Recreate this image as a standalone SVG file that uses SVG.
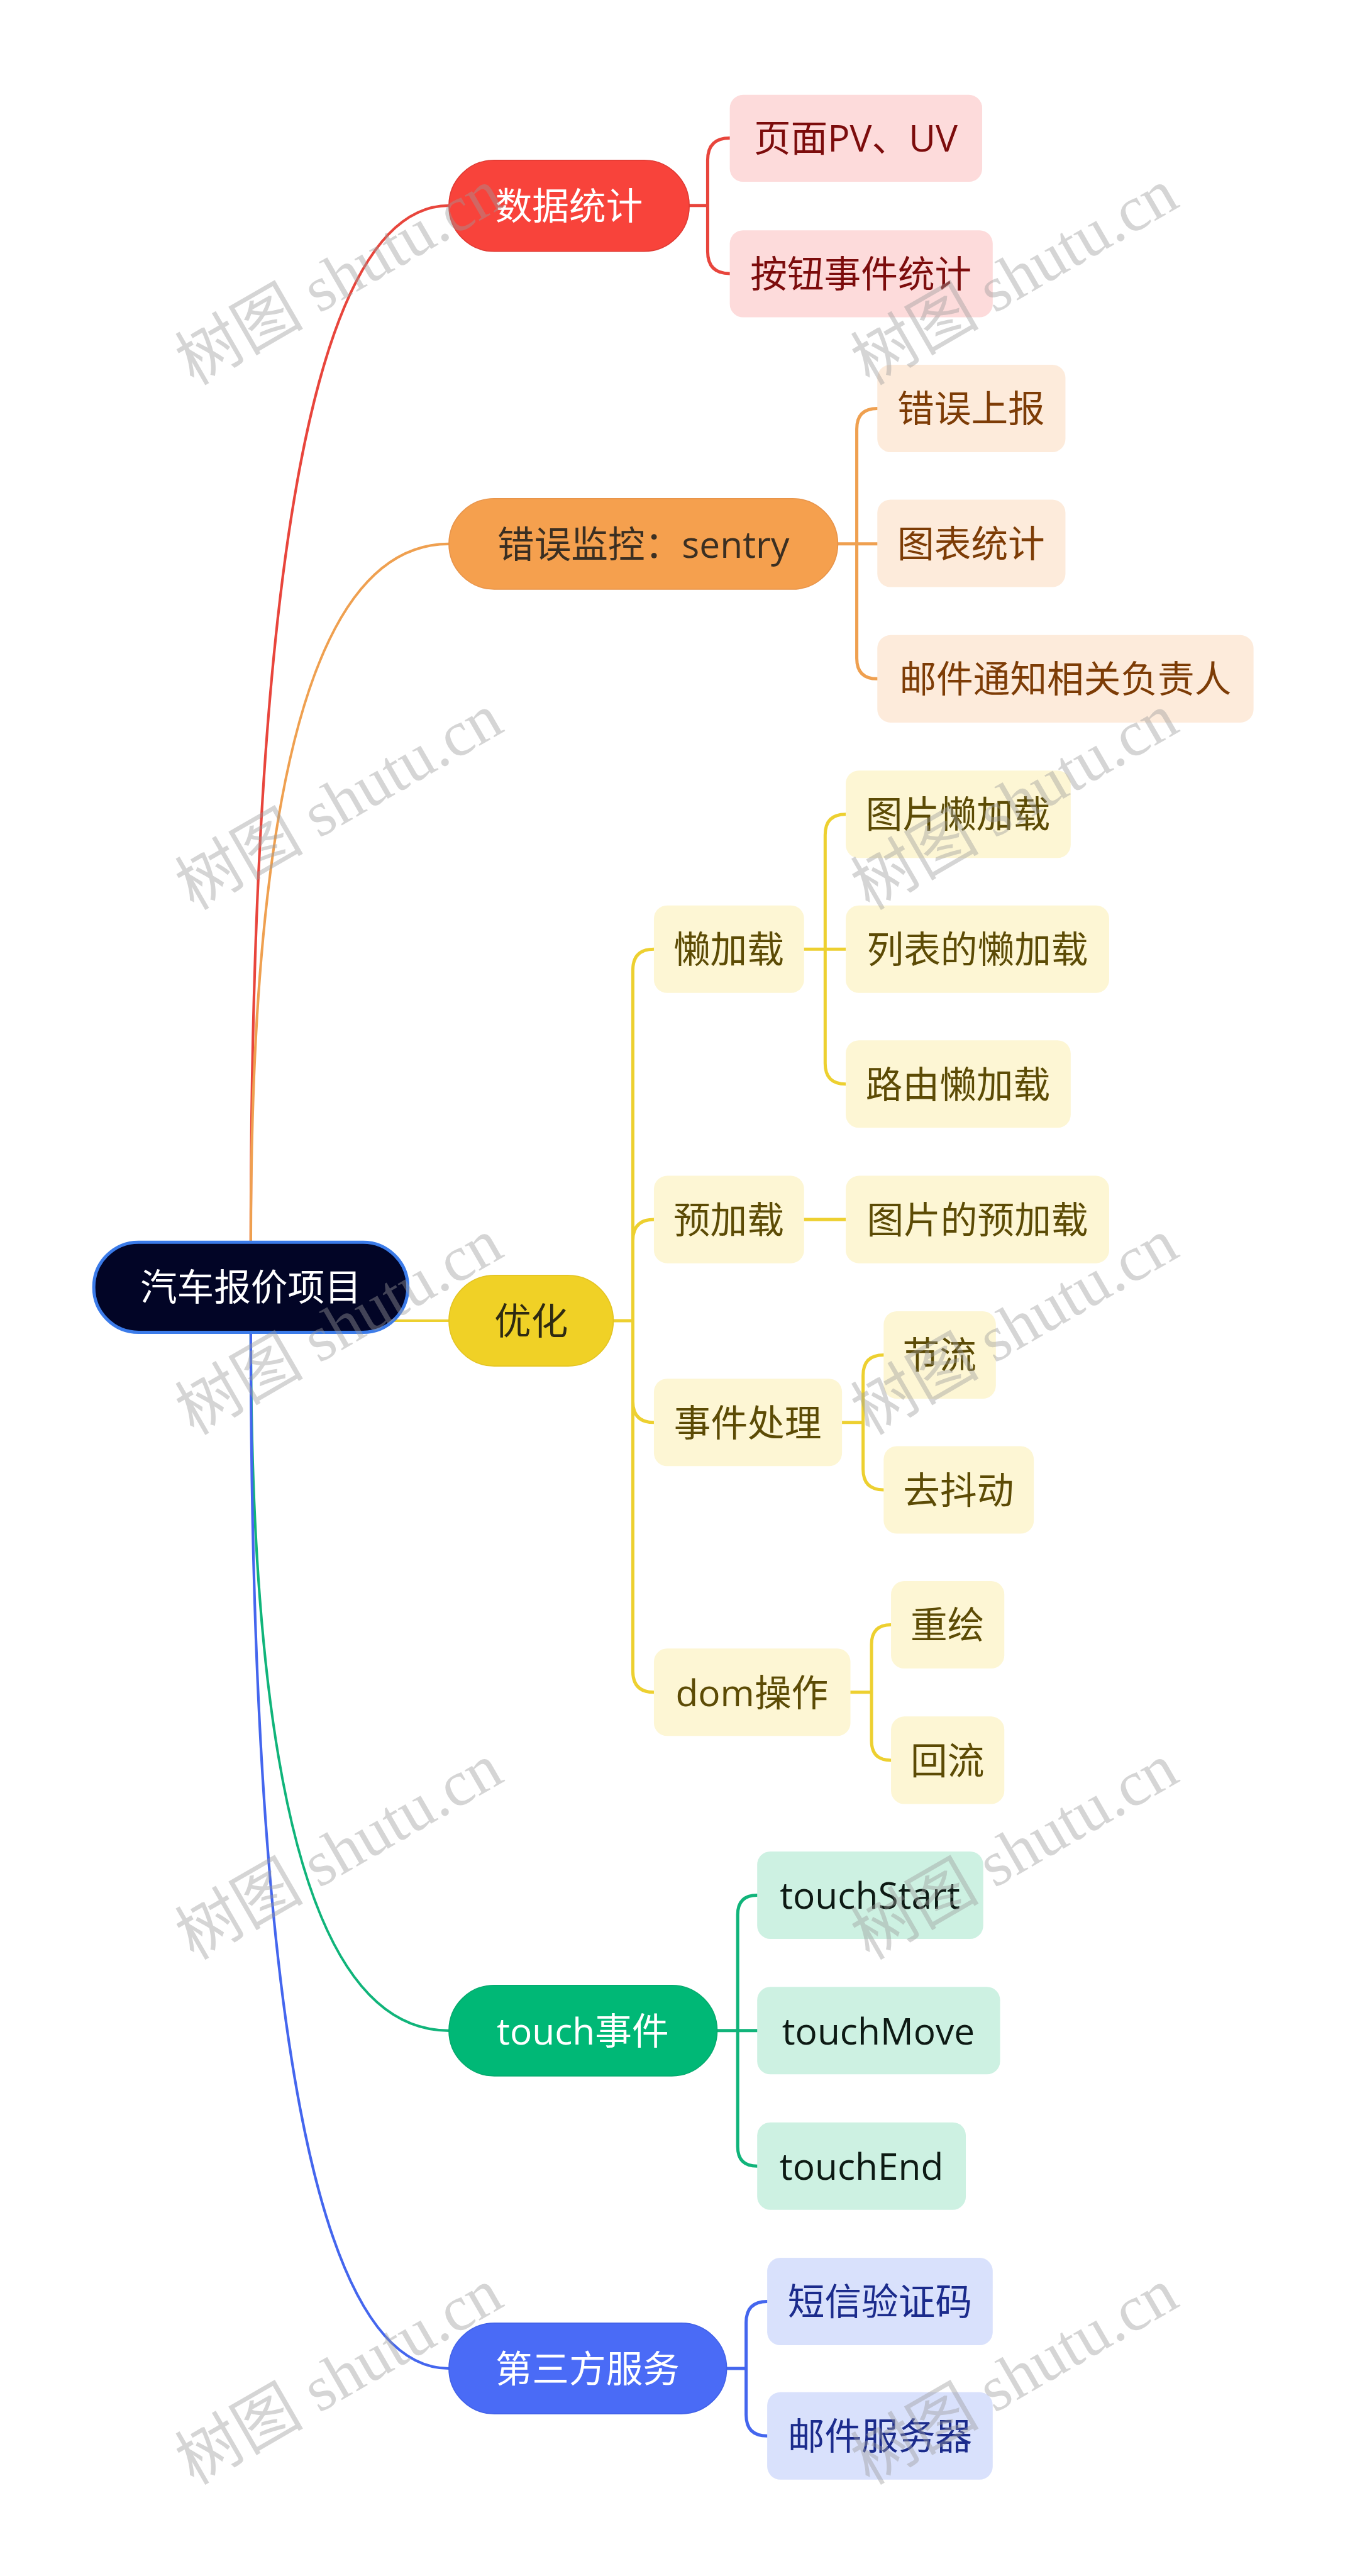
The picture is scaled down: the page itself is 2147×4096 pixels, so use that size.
<svg xmlns="http://www.w3.org/2000/svg" width="2147" height="4096" viewBox="0 0 2147 4096">
<style>
text{font-family:"Open Sans","Noto Sans CJK SC",sans-serif;font-size:70px;text-anchor:middle}
.c1{fill:none;stroke-width:5;stroke-linecap:round}
.c2{fill:none;stroke-width:6;stroke-linecap:round}
.red{stroke:#e8453c}.ora{stroke:#efa050}.yel{stroke:#edd030}.grn{stroke:#10b47a}.blu{stroke:#4466ee}
.wm{font-family:"Liberation Serif","Noto Sans CJK SC",serif;font-size:122px;fill:#9a9a9a;fill-opacity:0.42}
</style>
<rect width="2147" height="4096" fill="#ffffff"/>
<g transform="scale(0.838)">
<g id="connectors">
<path class="c1 red" d="M476,2357 Q476,390 852,390"/>
<path class="c1 ora" d="M476,2357 Q476,1032 852,1032"/>
<path class="c1 yel" d="M740,2506 H852"/>
<path class="c1 grn" d="M476,2528 Q476,3853 852,3853"/>
<path class="c1 blu" d="M476,2528 Q476,4494 852,4494"/>
<path class="c2 red" d="M1308,390 H1343 V304 Q1343,262 1385,262 M1343,390 V477 Q1343,519 1385,519"/>
<path class="c2 ora" d="M1590,1032 H1665 M1626,1032 V814 Q1626,775 1665,775 M1626,1032 V1249 Q1626,1288 1665,1288"/>
<path class="c2 yel" d="M1164,2506 H1201 M1201,2506 V1841 Q1201,1801 1241,1801 M1201,2506 V2354 Q1201,2314 1241,2314 M1201,2506 V2659 Q1201,2699 1241,2699 M1201,2506 V3171 Q1201,3211 1241,3211"/>
<path class="c2 yel" d="M1526,1801 H1605 M1566,1801 V1584 Q1566,1545 1605,1545 M1566,1801 V2018 Q1566,2057 1605,2057"/>
<path class="c2 yel" d="M1526,2314 H1605"/>
<path class="c2 yel" d="M1598,2699 H1638 M1638,2699 V2610 Q1638,2571 1677,2571 M1638,2699 V2788 Q1638,2827 1677,2827"/>
<path class="c2 yel" d="M1614,3211 H1654 M1654,3211 V3120 Q1654,3083 1691,3083 M1654,3211 V3303 Q1654,3340 1691,3340"/>
<path class="c2 grn" d="M1361,3853 H1437 M1400,3853 V3633 Q1400,3596 1437,3596 M1400,3853 V4073 Q1400,4110 1437,4110"/>
<path class="c2 blu" d="M1379,4494 H1416 M1416,4494 V4407 Q1416,4367 1456,4367 M1416,4494 V4582 Q1416,4622 1456,4622"/>
</g>
<g id="root"><rect x="178" y="2357" width="596" height="171" rx="85" fill="#020526" stroke="#3b7be9" stroke-width="6"/><text x="476" y="2468" fill="#ffffff">汽车报价项目</text></g>
<g id="n-data"><rect x="852" y="304" width="456" height="173" rx="86" fill="#f8433b" stroke="#e03a33" stroke-width="2"/><text x="1080" y="416" fill="#ffffff">数据统计</text></g>
<g id="n-pv"><rect x="1385" y="180" width="479" height="165" rx="25" fill="#fddbdb"/><text x="1624" y="288" fill="#7c0c0c">页面PV、UV</text></g>
<g id="n-btn"><rect x="1385" y="437" width="499" height="165" rx="25" fill="#fddbdb"/><text x="1634" y="545" fill="#7c0c0c">按钮事件统计</text></g>
<g id="n-err"><rect x="852" y="946" width="738" height="172" rx="86" fill="#f5a04e" stroke="#e8944a" stroke-width="2"/><text x="1221" y="1058" fill="#3b2f22">错误监控：sentry</text></g>
<g id="n-err1"><rect x="1665" y="692" width="357" height="166" rx="25" fill="#fdebdb"/><text x="1843" y="801" fill="#7d3c06">错误上报</text></g>
<g id="n-err2"><rect x="1665" y="948" width="357" height="166" rx="25" fill="#fdebdb"/><text x="1843" y="1057" fill="#7d3c06">图表统计</text></g>
<g id="n-err3"><rect x="1665" y="1205" width="714" height="166" rx="25" fill="#fdebdb"/><text x="2022" y="1314" fill="#7d3c06">邮件通知相关负责人</text></g>
<g id="n-opt"><rect x="852" y="2420" width="312" height="172" rx="86" fill="#f0d126" stroke="#e4c422" stroke-width="2"/><text x="1008" y="2532" fill="#2e2a12">优化</text></g>
<g id="n-lazy"><rect x="1241" y="1718" width="285" height="166" rx="25" fill="#fdf6d4"/><text x="1383" y="1827" fill="#5c4b05">懒加载</text></g>
<g id="n-lazy1"><rect x="1605" y="1462" width="427" height="166" rx="25" fill="#fdf6d4"/><text x="1818" y="1571" fill="#5c4b05">图片懒加载</text></g>
<g id="n-lazy2"><rect x="1605" y="1718" width="500" height="166" rx="25" fill="#fdf6d4"/><text x="1855" y="1827" fill="#5c4b05">列表的懒加载</text></g>
<g id="n-lazy3"><rect x="1605" y="1974" width="427" height="166" rx="25" fill="#fdf6d4"/><text x="1818" y="2083" fill="#5c4b05">路由懒加载</text></g>
<g id="n-pre"><rect x="1241" y="2231" width="285" height="166" rx="25" fill="#fdf6d4"/><text x="1383" y="2340" fill="#5c4b05">预加载</text></g>
<g id="n-pre1"><rect x="1605" y="2231" width="500" height="166" rx="25" fill="#fdf6d4"/><text x="1855" y="2340" fill="#5c4b05">图片的预加载</text></g>
<g id="n-evt"><rect x="1241" y="2616" width="357" height="166" rx="25" fill="#fdf6d4"/><text x="1419" y="2725" fill="#5c4b05">事件处理</text></g>
<g id="n-evt1"><rect x="1677" y="2488" width="213" height="166" rx="25" fill="#fdf6d4"/><text x="1783" y="2597" fill="#5c4b05">节流</text></g>
<g id="n-evt2"><rect x="1677" y="2744" width="285" height="166" rx="25" fill="#fdf6d4"/><text x="1819" y="2853" fill="#5c4b05">去抖动</text></g>
<g id="n-dom"><rect x="1241" y="3128" width="373" height="166" rx="25" fill="#fdf6d4"/><text x="1427" y="3237" fill="#5c4b05">dom操作</text></g>
<g id="n-dom1"><rect x="1691" y="3000" width="215" height="166" rx="25" fill="#fdf6d4"/><text x="1798" y="3109" fill="#5c4b05">重绘</text></g>
<g id="n-dom2"><rect x="1691" y="3257" width="215" height="166" rx="25" fill="#fdf6d4"/><text x="1798" y="3366" fill="#5c4b05">回流</text></g>
<g id="n-touch"><rect x="852" y="3767" width="509" height="172" rx="86" fill="#00b876" stroke="#05aa6e" stroke-width="2"/><text x="1106" y="3879" fill="#ffffff">touch事件</text></g>
<g id="n-t1"><rect x="1437" y="3513" width="429" height="166" rx="25" fill="#cdf1e2"/><text x="1651" y="3622" fill="#0d1a14">touchStart</text></g>
<g id="n-t2"><rect x="1437" y="3770" width="461" height="166" rx="25" fill="#cdf1e2"/><text x="1667" y="3879" fill="#0d1a14">touchMove</text></g>
<g id="n-t3"><rect x="1437" y="4027" width="396" height="166" rx="25" fill="#cdf1e2"/><text x="1635" y="4136" fill="#0d1a14">touchEnd</text></g>
<g id="n-third"><rect x="852" y="4408" width="527" height="172" rx="86" fill="#4a6bf6" stroke="#4262e8" stroke-width="2"/><text x="1115" y="4520" fill="#ffffff">第三方服务</text></g>
<g id="n-s1"><rect x="1456" y="4284" width="428" height="166" rx="25" fill="#d9e1fc"/><text x="1670" y="4393" fill="#1b2b8c">短信验证码</text></g>
<g id="n-s2"><rect x="1456" y="4539" width="428" height="166" rx="25" fill="#d9e1fc"/><text x="1670" y="4648" fill="#1b2b8c">邮件服务器</text></g>
<g id="watermarks">
<text class="wm" transform="translate(646,530) rotate(-30)" x="0" y="36">树图 shutu.cn</text>
<text class="wm" transform="translate(1928,530) rotate(-30)" x="0" y="36">树图 shutu.cn</text>
<text class="wm" transform="translate(646,1526) rotate(-30)" x="0" y="36">树图 shutu.cn</text>
<text class="wm" transform="translate(1928,1526) rotate(-30)" x="0" y="36">树图 shutu.cn</text>
<text class="wm" transform="translate(646,2522) rotate(-30)" x="0" y="36">树图 shutu.cn</text>
<text class="wm" transform="translate(1928,2522) rotate(-30)" x="0" y="36">树图 shutu.cn</text>
<text class="wm" transform="translate(646,3518) rotate(-30)" x="0" y="36">树图 shutu.cn</text>
<text class="wm" transform="translate(1928,3518) rotate(-30)" x="0" y="36">树图 shutu.cn</text>
<text class="wm" transform="translate(646,4514) rotate(-30)" x="0" y="36">树图 shutu.cn</text>
<text class="wm" transform="translate(1928,4514) rotate(-30)" x="0" y="36">树图 shutu.cn</text>
</g>
</g>
</svg>
